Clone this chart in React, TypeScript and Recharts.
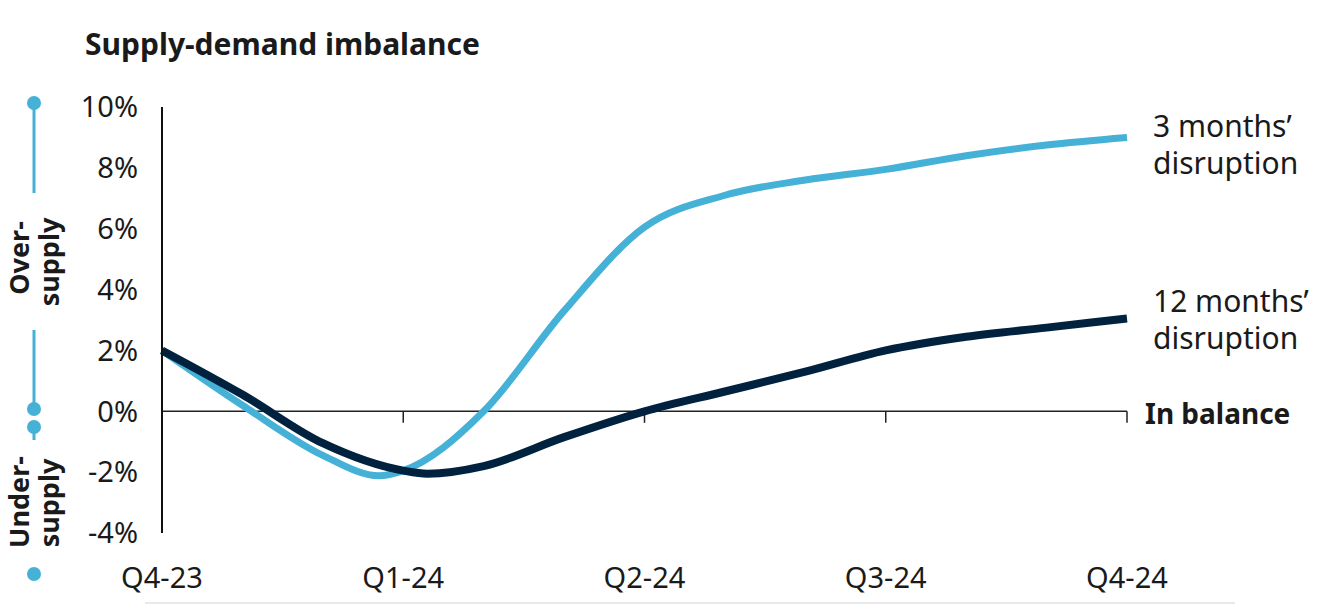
import React from 'react';
import { LineChart, Line, XAxis, YAxis, ReferenceLine } from 'recharts';

// quarter axis (months from Q4-23)
const quarterMonths = [0, 3, 6, 9, 12];
const quarterLabels = ['Q4-23', 'Q1-24', 'Q2-24', 'Q3-24', 'Q4-24'];
const yTicks = [-4, -2, 0, 2, 4, 6, 8, 10];

// 3 months' disruption
const shortMonths = [0, 1, 2, 2.7, 3, 4, 5, 6, 7, 8, 9, 10, 11, 12];
const shortValues = [2.0, 0.2, -1.45, -2.12, -1.95, 0, 3.3, 6.05, 7.1, 7.6, 7.95, 8.4, 8.75, 9.0];

// 12 months' disruption
const longMonths = [0, 1, 2, 3, 3.3, 4, 5, 6, 7, 8, 9, 10, 11, 12];
const longValues = [2.0, 0.55, -1.05, -1.95, -2.05, -1.8, -0.85, 0, 0.65, 1.3, 2.0, 2.45, 2.75, 3.05];

const shortData = shortMonths.map((m, i) => ({ m, v: shortValues[i] }));
const longData = longMonths.map((m, i) => ({ m, v: longValues[i] }));

const FONT = "'Noto Sans', sans-serif";
const INK = '#1a1a1a';
const LIGHT = '#45B1D7';
const DARK = '#00223F';

const endLabel = (lines: string[], first: number, last: number) => (p: any) => {
    if (p.index !== last) return null;
    return (
        <text x={p.x + 26} y={p.y + first} fontFamily={FONT} fontSize={30} fill={INK}>
            {lines.map((t, i) => (
                <tspan key={i} x={p.x + 26} dy={i === 0 ? 0 : 37}>{t}</tspan>
            ))}
        </text>
    );
};

const InBalance = (props: any) => {
    const vb = props.viewBox || {};
    return (
        <text x={vb.x + vb.width + 18} y={vb.y + 13} fontFamily={FONT} fontSize={28} fontWeight={700} fill={INK}>
            In balance
        </text>
    );
};

const SideNotes = () => (
    <svg width={1334} height={606} style={{ position: 'absolute', left: 0, top: 0, pointerEvents: 'none' }}>
        <text x={85} y={55} fontFamily={FONT} fontSize={30} fontWeight={700} fill={INK}>Supply-demand imbalance</text>

        <line x1={34} y1={103} x2={34} y2={193} stroke={LIGHT} strokeWidth={3} />
        <circle cx={34} cy={103} r={7} fill={LIGHT} />
        <line x1={34} y1={330} x2={34} y2={409} stroke={LIGHT} strokeWidth={3} />
        <circle cx={34} cy={409} r={7} fill={LIGHT} />
        <circle cx={34} cy={427} r={7} fill={LIGHT} />
        <line x1={34} y1={427} x2={34} y2={440} stroke={LIGHT} strokeWidth={3} />
        <circle cx={34} cy={574} r={7} fill={LIGHT} />

        <g fontFamily={FONT} fontSize={27} fontWeight={700} fill={INK} textAnchor="middle">
            <text transform="translate(29,258) rotate(-90)">Over-</text>
            <text transform="translate(59,262) rotate(-90)">supply</text>
            <text transform="translate(29,502) rotate(-90)">Under-</text>
            <text transform="translate(59,503) rotate(-90)">supply</text>
        </g>

        <line x1={145} y1={603} x2={1235} y2={603} stroke="#e8e8e8" strokeWidth={2} />
    </svg>
);

export default function App() {
    const lastShort = shortData.length - 1;
    const lastLong = longData.length - 1;
    return (
        <div style={{ position: 'absolute', left: 0, top: 0, width: 1334, height: 606, background: '#fff' }}>
            <LineChart width={1334} height={606} margin={{ top: 107, right: 207, bottom: 33, left: 0 }}>
                <XAxis
                    dataKey="m"
                    type="number"
                    domain={[0, 12]}
                    ticks={quarterMonths}
                    tickFormatter={(v: number) => quarterLabels[quarterMonths.indexOf(v)]}
                    axisLine={false}
                    tickLine={false}
                    height={40}
                    tickMargin={28}
                    tick={{ fontSize: 29, fill: INK, fontFamily: FONT }}
                    allowDuplicatedCategory={false}
                />
                <YAxis
                    type="number"
                    domain={[-4, 10]}
                    ticks={yTicks}
                    tickFormatter={(v: number) => `${v}%`}
                    width={162}
                    axisLine={{ stroke: '#111', strokeWidth: 2 }}
                    tickLine={false}
                    tickMargin={18}
                    tick={{ fontSize: 29, fill: INK, fontFamily: FONT }}
                />
                <ReferenceLine y={0} stroke="#222" strokeWidth={1.5} label={<InBalance />} />
                {quarterMonths.slice(1).map((m) => (
                    <ReferenceLine key={m} segment={[{ x: m, y: 0 }, { x: m, y: -0.38 }]} stroke="#222" strokeWidth={1.5} />
                ))}
                <Line
                    data={shortData}
                    dataKey="v"
                    type="monotone"
                    stroke={LIGHT}
                    strokeWidth={7}
                    dot={false}
                    activeDot={false}
                    isAnimationActive={false}
                    label={endLabel(["3 months’", 'disruption'], 0, lastShort)}
                />
                <Line
                    data={longData}
                    dataKey="v"
                    type="monotone"
                    stroke={DARK}
                    strokeWidth={8}
                    dot={false}
                    activeDot={false}
                    isAnimationActive={false}
                    label={endLabel(["12 months’", 'disruption'], -6, lastLong)}
                />
            </LineChart>
            <SideNotes />
        </div>
    );
}
